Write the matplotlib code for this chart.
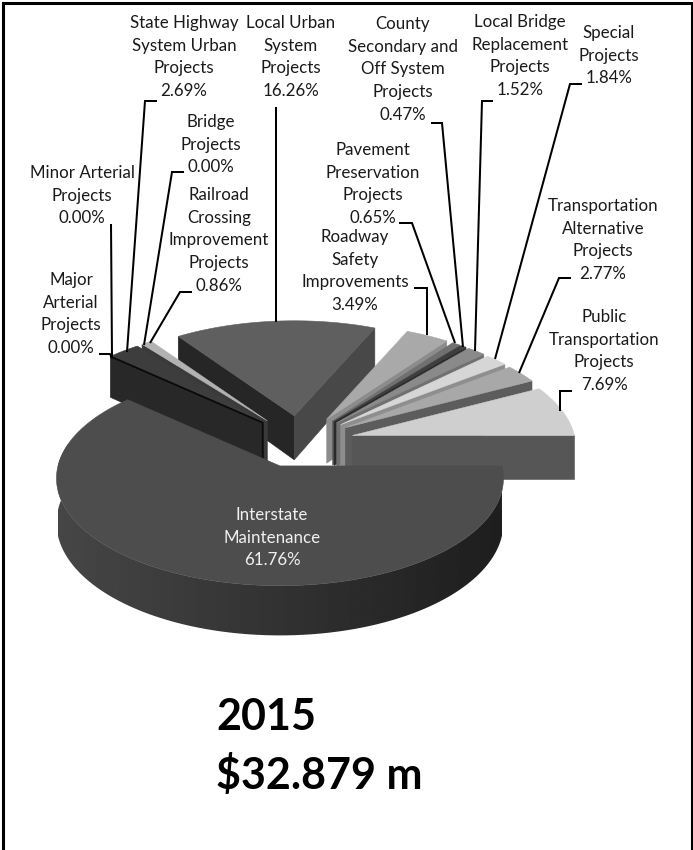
import numpy as np
import matplotlib
matplotlib.use("Agg")
import matplotlib.pyplot as plt
from matplotlib.patches import Polygon

# ---- data (clockwise from 3 o'clock) ----
categories = ["Interstate\nMaintenance", "Major\nArterial\nProjects", "Minor Arterial\nProjects",
              "Bridge\nProjects", "State Highway\nSystem Urban\nProjects",
              "Railroad\nCrossing\nImprovement\nProjects", "Local Urban\nSystem\nProjects",
              "Roadway\nSafety\nImprovements", "Pavement\nPreservation\nProjects",
              "County\nSecondary and\nOff System\nProjects", "Local Bridge\nReplacement\nProjects",
              "Special\nProjects", "Transportation\nAlternative\nProjects",
              "Public\nTransportation\nProjects"]
values = [61.76, 0.00, 0.00, 0.00, 2.69, 0.86, 16.26, 3.49, 0.65, 0.47, 1.52, 1.84, 2.77, 7.69]
title_lines = ["2015", "$32.879 m"]

# ---- style ----
top_colors = ["#4d4d4d", "#000000", "#000000", "#000000", "#3d3d3d", "#b2b2b2", "#5f5f5f",
              "#a9a9a9", "#707070", "#3e3e3e", "#8a8a8a", "#d6d6d6", "#a8a8a8", "#cfcfcf"]
side_colors = ["#303030", "#000000", "#000000", "#000000", "#282828", "#3a3a3a", "#262626",
               "#8c8c8c", "#555555", "#2a2a2a", "#707070", "#8e8e8e", "#5c5c5c", "#565656"]
label_centers = [(272, 515), (71, 280), (82, 173), (211, 122), (184, 23), (219, 195), (291, 23),
                 (355, 237), (373, 150), (403, 24), (520, 22), (609, 33), (603, 206), (604, 317)]
leaders = [None,
           [(99, 354), (110, 354), (112, 358)],
           [(111, 224), (112, 357)],
           [(184, 172), (172, 172), (144, 345)],
           [(157, 101), (145, 101), (127, 352)],
           [(192, 292), (180, 292), (150, 343)],
           [(276, 107), (276, 322)],
           [(414, 288), (427, 288), (427, 335)],
           [(399, 223), (412, 223), (455, 343)],
           [(431, 123), (442, 123), (463, 347)],
           [(493, 101), (482, 101), (475, 351)],
           [(582, 84), (570, 84), (495, 359)],
           [(571, 278), (559, 278), (519, 373)],
           [(572, 391), (560, 391), (560, 411)]]
CX, CY, RX, RY, KP, EXPL, DEPTH = 299.6, 441.7, 222.0, 106.0, 0.115, 0.245, 44.0
FONT = "Lato"
LABEL_SIZE = 12.2

fig = plt.figure(figsize=(6.93, 8.5), dpi=100)
ax = fig.add_axes([0, 0, 1, 1])
ax.axis("off")

vals = np.array(values)
ends = -np.cumsum(vals) * 3.6
starts = np.concatenate([[0.0], ends[:-1]])
mids = (starts + ends) / 2


def apex(i):
    m = np.radians(mids[i])
    return CX + EXPL * RX * np.cos(m), CY - EXPL * RY * np.sin(m)


def rim(i, deg, drop=False):
    t = np.radians(deg)
    ax0, ay0 = apex(i)
    d = 1 + KP * np.sin(t)
    x = ax0 + RX * np.cos(t) / d
    y = ay0 - RY * np.sin(t) / d
    return x, y + (DEPTH / d if drop else 0)


def arc(i, n=60):
    return [rim(i, a) for a in np.linspace(starts[i], ends[i], n)]


def add(points, color, z):
    ax.add_patch(Polygon(points, closed=True, facecolor=color, edgecolor=color, lw=0.4, zorder=z))


def radial_side(i, deg, color, z):
    a = apex(i)
    add([a, rim(i, deg), rim(i, deg, True), (a[0], a[1] + DEPTH)], color, z)


z = 2
# far pieces first: Local Urban, Railroad, State Highway, then the right fan, Interstate last
radial_side(6, starts[6], side_colors[6], z)
radial_side(6, ends[6], "#484848", z)
add([apex(6)] + arc(6), top_colors[6], z + 0.5)
z += 1
for i in (5, 4):
    radial_side(i, starts[i], side_colors[i], z)
    add([apex(i)] + arc(i), top_colors[i], z + 0.5)
    z += 1
# zero-value slices: only a black hairline along the State Highway edge
a4 = apex(4)
for i in (1, 2, 3):
    if vals[i] == 0:
        e = rim(4, starts[4])
        ax.plot([e[0], a4[0], a4[0]], [e[1], a4[1], a4[1] + DEPTH * 0.85],
                color="#0c0c0c", lw=1.0, zorder=z, solid_capstyle="butt")
z += 1
for i in range(7, 14):
    radial_side(i, ends[i], side_colors[i], z)
    add([apex(i)] + arc(i), top_colors[i], z + 0.5)
    z += 1

# Interstate: shaded rim (smooth gradient clipped to the rim outline) then top
rim_angles = np.linspace(0, -192, 130)
rim_outline = [rim(0, a) for a in rim_angles] + [rim(0, a, True) for a in rim_angles[::-1]]
rim_patch = Polygon(rim_outline, closed=True, facecolor="none", edgecolor="none", zorder=z)
ax.add_patch(rim_patch)
grad = np.linspace(0.275, 0.118, 256).reshape(1, -1)
im = ax.imshow(grad, extent=(apex(0)[0] - RX, apex(0)[0] + RX, 680, 440), cmap="gray",
               vmin=0, vmax=1, aspect="auto", zorder=z, interpolation="bilinear")
im.set_clip_path(rim_patch)
z += 1
add([apex(0)] + arc(0, 200), top_colors[0], z)
z += 1

# leaders
for pts in leaders:
    if pts:
        xs, ys = zip(*pts)
        ax.plot(xs, ys, color="black", lw=1.45, zorder=z, solid_joinstyle="miter", solid_capstyle="butt")

# labels: one text per line so line positions follow the reference
for cat, v, (lx, ly), col in zip(categories, values, label_centers,
                                 ["#f0f0f0"] + ["#1a1a1a"] * 13):
    lines = cat.split("\n") + [f"{v:.2f}%"]
    for k, s in enumerate(lines):
        ax.text(lx, ly + k * 22.7, s, ha="center", va="center", family=FONT,
                fontsize=LABEL_SIZE, color=col, zorder=z + 1)

# title
ax.text(216, 717, title_lines[0], family=FONT, fontweight="bold", fontsize=31, ha="left", va="center", color="black")
ax.text(216, 775, title_lines[1], family=FONT, fontweight="bold", fontsize=31, ha="left", va="center", color="black")

# frame (open at the bottom)
ax.plot([2.5, 2.5, 691.5, 691.5], [850, 3, 3, 850], color="black", lw=2.2, solid_joinstyle="miter", zorder=z + 2)

ax.set_xlim(0, 693)
ax.set_ylim(850, 0)
fig.savefig("out.png", dpi=100, facecolor="white")
